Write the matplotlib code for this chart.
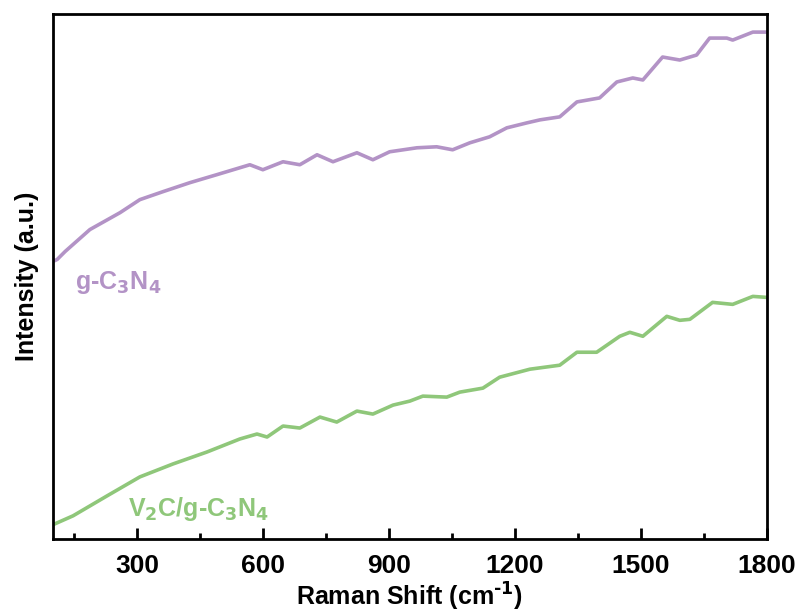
import numpy as np
import matplotlib.pyplot as plt
from matplotlib.ticker import MultipleLocator

# g-C3N4 raman curve
g_x = [100, 110, 129, 188, 260, 307, 362, 426, 490, 569, 600, 648, 688, 729, 767,
       824, 862, 902, 967, 1014, 1052, 1093, 1140, 1181, 1229, 1260, 1307, 1348,
       1402, 1443, 1481, 1505, 1552, 1593, 1633, 1664, 1705, 1719, 1767, 1800]
g_y = [278, 280, 288, 310, 327, 340, 348, 357, 365, 375, 370, 378, 375, 385, 378,
       387, 380, 388, 392, 393, 390, 397, 403, 412, 417, 420, 423, 438,
       442, 458, 462, 460, 483, 480, 485, 502, 502, 500, 508, 508]

# V2C/g-C3N4 curve
v_x = [100, 105, 148, 229, 307, 386, 467, 545, 586, 610, 648, 688, 736, 776, 824,
       862, 910, 950, 981, 1038, 1069, 1124, 1164, 1236, 1307, 1348, 1395, 1450,
       1474, 1505, 1562, 1593, 1617, 1671, 1719, 1767, 1800]
v_y = [14, 15, 23, 43, 62, 75, 87, 100, 105, 102, 113, 111, 122, 117, 128,
       125, 134, 138, 143, 142, 147, 151, 162, 170, 174, 187, 187, 203,
       207, 203, 223, 219, 220, 237, 235, 243, 242]

purple = '#B393C6'
green = '#8FC77A'

plt.rcParams['font.family'] = 'Liberation Sans'
plt.rcParams['font.weight'] = 'bold'
plt.rcParams['mathtext.default'] = 'bf'

fig = plt.figure(figsize=(8.02, 6.15), dpi=100)
ax = fig.add_axes([0.066, 0.124, 0.890, 0.853])

ax.plot(g_x, g_y, color=purple, lw=2.6)
ax.plot(v_x, v_y, color=green, lw=2.6)

ax.text(152, 257, 'g-C$_3$N$_4$', color=purple, fontsize=18, fontweight='bold',
        va='center')
ax.text(279, 30, 'V$_2$C/g-C$_3$N$_4$', color=green, fontsize=18, fontweight='bold',
        va='center')

ax.set_xlim(100, 1800)
ax.set_ylim(0, 526)
ax.xaxis.set_major_locator(MultipleLocator(300))
ax.set_xticks(np.arange(150, 1800, 300), minor=True)
ax.set_yticks([])
ax.tick_params(axis='x', which='major', direction='in', length=8, width=2,
               labelsize=19, pad=11)
ax.tick_params(axis='x', which='minor', direction='in', length=4.5, width=2)
for s in ax.spines.values():
    s.set_linewidth(2)

ax.set_xlabel(r'Raman Shift (cm$^{\text{-1}}$)', fontsize=18, fontweight='bold', labelpad=2)
ax.set_ylabel('Intensity (a.u.)', fontsize=18, fontweight='bold', labelpad=10)

fig.savefig('out.png', dpi=100)
